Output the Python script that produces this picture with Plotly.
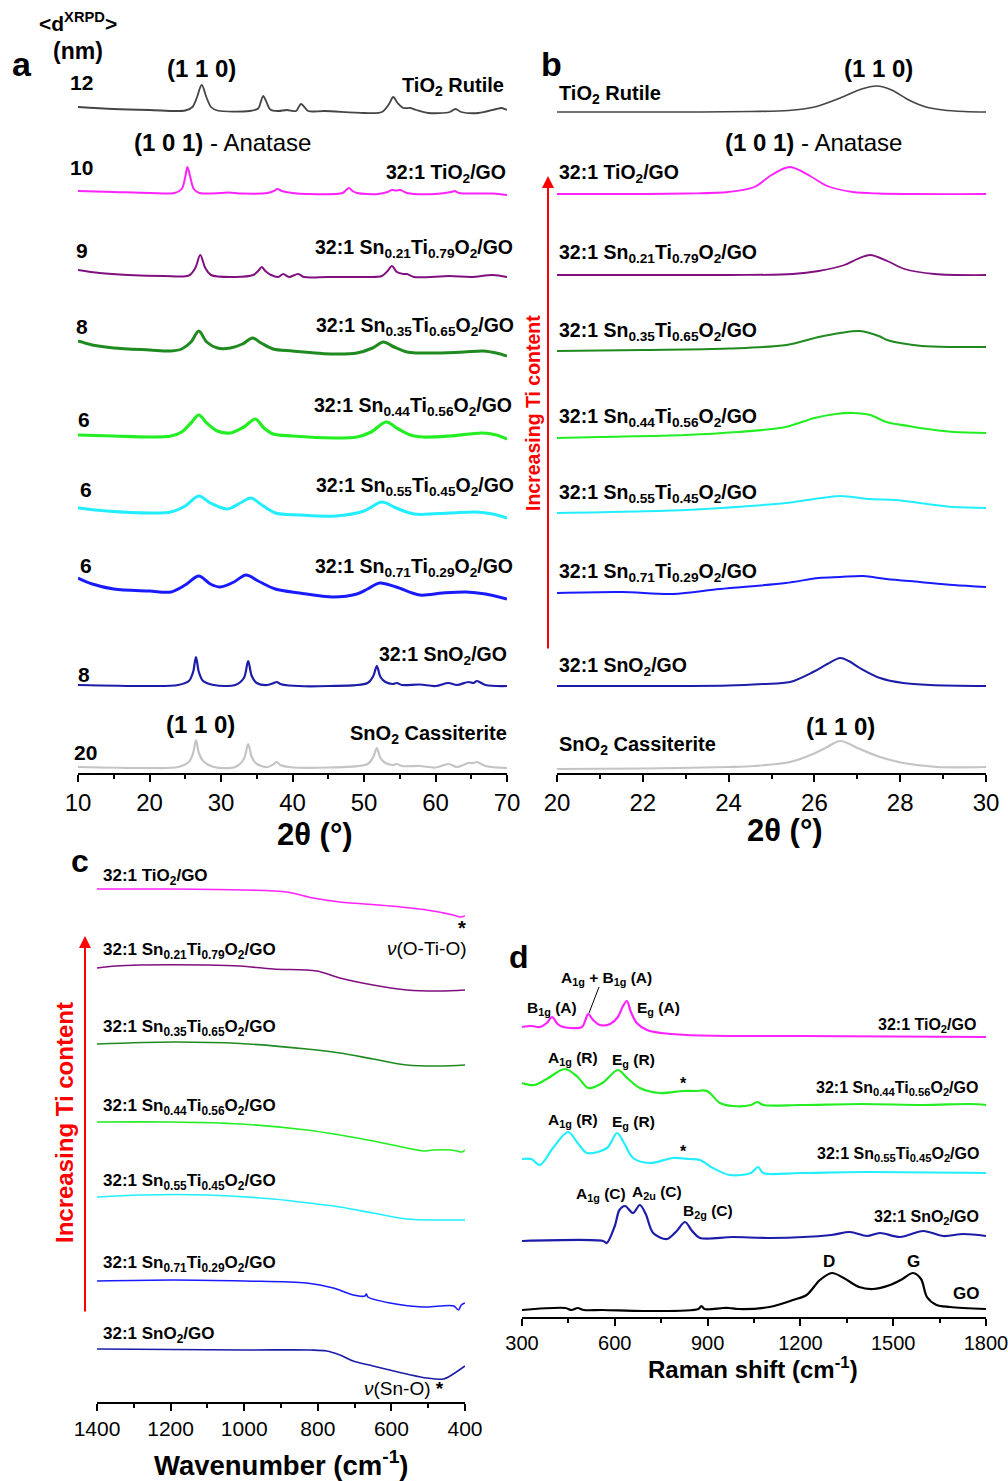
import plotly.graph_objects as go

# the page's default 8px body margin is removed (post_script below), so reference pixels map 1:1
OX, OY = 0, 0
FW, FH = 1008, 1481
FONT = "Liberation Sans, Arial, sans-serif"

# ---------------- Panel a : XRPD 10-70 (relative intensity, a.u.) ----------------
a_rutile_x = [10, 15, 20, 25, 26, 26.6, 27.3, 28, 28.6, 29.5, 34, 35.2, 35.6, 35.9, 36.3, 36.9, 38, 39.2, 40.5, 40.9,
              41.2, 41.6, 42.2, 44.5, 50, 52.5, 53.5, 54.1, 54.7, 55.5, 56.5, 57.3, 59, 62, 62.8, 63.6, 66, 68.5, 69.2, 70]
a_rutile_y = [4, 2, 1, 0.5, 4, 13, 26, 13, 4, 0.5, 0, 2.5, 10, 15, 10, 1.5, 0, 1, 0, 4.5,
              7, 4.5, 0, 0, -2, -1, 7, 14, 8, 3, 3, 1, -2, -1, 2, -1, -2, 2, 3, 1]
a_tio2_x = [10, 15, 20, 23.5, 24.5, 25.0, 25.3, 25.7, 26.2, 27, 30, 31, 33, 36.5, 37.4, 37.9, 38.5, 40, 42, 47,
            47.5, 47.9, 48.4, 49, 52, 53.3, 53.9, 54.5, 55.1, 56, 60, 62.2, 62.7, 63.3, 68, 70]
a_tio2_y = [3, 2, 1, 1, 5, 17, 27, 17, 5, 1, 1, 1.5, 0.5, 1, 3, 5, 3, 1, 0, 1,
            4, 6, 3, 1, 0, 2, 4, 3.5, 4, 1, 0, 2, 3, 1, 0.5, -1]
a_sn21_x = [10, 13, 17, 22, 25.5, 26.4, 27.1, 27.8, 28.6, 32, 34.5, 35.2, 35.7, 36.2, 37, 38, 38.7, 39.5, 40.8, 41.6,
            45, 50, 52.5, 53.3, 53.9, 54.6, 55.5, 56, 57, 62, 65, 68, 70]
a_sn21_y = [6, 3, 1, 0, 0.5, 8, 21, 8, 1, -1, 1, 5, 9, 5, 1, -1, 2, -1, 2, -1,
            -1, -1, 0, 5, 10, 4, 2, 2, -1, 0, -1, 1, -1]
a_sn35_x = [10, 12, 15, 20, 23, 24.5, 25.8, 26.9, 28, 29.5, 31.3, 33, 34.4, 35.6, 37.3, 40, 45.7, 49, 51.2, 52.7,
            54.2, 56, 57.4, 60, 64, 66.7, 68.5, 70]
a_sn35_y = [11, 7, 4, 2, 1, 3, 10, 21, 10, 4, 4, 8, 14, 9, 3, 1, -2, -1, 4, 10,
            5, 0, -1, -1, 0, 1, -1, -4]
a_sn44_x = [10, 15, 20, 23, 24.5, 25.8, 26.9, 28, 29.5, 31.3, 33.2, 34.8, 36, 37.3, 40, 45.7, 49, 51, 53.1, 54.8,
            56.5, 58.3, 62, 66.6, 68.5, 70]
a_sn44_y = [2, 1, 0, 1, 5, 14, 22, 14, 6, 4, 10, 18, 9, 3, 1, -1, 0, 5, 15, 8,
            2, 0, 1, 4, 2, -2]
a_sn55_x = [10, 14, 20, 23, 25, 26.9, 28.5, 30.9, 32.7, 34.2, 35.7, 37.6, 41, 46, 50, 52.5, 54.5, 57, 62, 65.7, 68, 70]
a_sn55_y = [6, 3, 1, 2, 8, 18, 11, 5, 11, 16, 9, 1, -1, -2, 3, 12, 6, 0, 1, 2, 0, -4]
a_sn71_x = [10, 12, 15, 20, 23, 25, 26.9, 28.5, 29.9, 31.8, 33.5, 35.2, 37.6, 41, 45.7, 49, 50.5, 52.2, 54.5, 57.8,
            61, 64.3, 67, 70]
a_sn71_y = [16, 10, 5, 3, 2, 9, 18, 10, 7, 12, 19, 13, 5, 1, -3, 0, 5, 11, 7, -1,
            1, 2, 0, -5]
a_sno2_x = [10, 20, 24, 25.5, 26.1, 26.5, 26.9, 27.5, 29, 32, 33.2, 33.8, 34.3, 35, 36.5, 37.4, 37.8, 38.3, 39.5, 45,
            50.5, 51.3, 51.8, 52.3, 53, 54, 54.6, 55.3, 57.8, 60, 61.8, 63, 64.6, 65.3, 65.8, 67, 70]
a_sno2_y = [1, 0, 1, 5, 14, 29, 14, 5, 1, 1, 8, 25, 10, 3, 1, 3, 4, 2, 0.5, 0,
            3, 10, 20, 9, 4, 2, 3, 1, 1.5, 0, 3, 1, 4, 3, 5, 1, 0]
a_cass_x = a_sno2_x
a_cass_y = [1, 0, 1, 6, 15, 28, 15, 7, 1, 1, 9, 24, 11, 4, 1, 4, 6, 3, 1, 0.5,
            4, 11, 20, 10, 5, 3, 4, 2, 2, 0.5, 4, 1, 5, 5, 6, 2, 0]

# ---------------- Panel b : XRPD 20-30 ----------------
b_rutile_x = [20, 23, 24.5, 25.4, 26, 26.6, 27.1, 27.45, 27.8, 28.2, 28.6, 29, 29.5, 30]
b_rutile_y = [0, 0, 0.5, 1.5, 5, 14, 23, 26, 22, 12, 5, 2, 0.5, 0]
b_tio2_x = [20, 23, 24, 24.6, 25, 25.43, 25.9, 26.3, 26.9, 27.5, 30]
b_tio2_y = [0, 0.5, 2, 7, 19, 27, 18, 8, 2, 0.5, 0]
b_sn21_x = [20, 24, 25.5, 26.1, 26.7, 27.0, 27.3, 27.7, 28.1, 28.8, 30]
b_sn21_y = [0, 0, 1, 4, 10, 16, 20, 14, 6, 1, 0]
b_sn35_x = [20, 22, 24, 25.35, 26.1, 26.6, 27.06, 27.5, 27.7, 28.0, 28.5, 29.2, 30]
b_sn35_y = [-1, 0, 1.5, 5, 13, 17, 19, 14, 10, 7, 4, 3, 3]
b_sn44_x = [20, 21, 23, 24.2, 25.33, 26, 26.5, 26.9, 27.3, 27.68, 28.2, 28.46, 29.24, 30]
b_sn44_y = [-1, 0, 2, 5, 10, 19, 23, 24, 22, 15, 11, 9, 5, 4]
b_sn55_x = [20, 23, 24.5, 25.33, 26, 26.6, 27.3, 27.9, 28.46, 29.24, 30]
b_sn55_y = [0, 3, 7, 10, 14, 17, 14, 13, 10, 6, 5]
b_sn71_x = [20, 21.5, 22.7, 23.8, 25.33, 26.1, 26.6, 27.14, 27.68, 28.46, 29.24, 30]
b_sn71_y = [0, 1, -1, 4, 10, 15, 16, 17, 14, 11, 8, 6]
b_sno2_x = [20, 24, 24.8, 25.43, 25.97, 26.3, 26.6, 26.8, 27.06, 27.53, 28.07, 28.7, 30]
b_sno2_y = [0, 0.5, 2, 4, 14, 22, 28, 25, 18, 8, 3, 1, 0]
b_cass_x = [20, 22, 24, 24.6, 25.43, 25.97, 26.3, 26.6, 27.06, 27.53, 28.07, 28.85, 30]
b_cass_y = [0, 0.5, 2, 3, 7, 15, 22, 28, 20, 12, 6, 2, 2]

# ---------------- Panel c : FTIR (transmittance, a.u.) ----------------
c_tio2_x = [1400, 1200, 1000, 884, 813, 740, 604, 504, 432, 413, 400]
c_tio2_y = [0, 0, -1, -3, -9, -13, -17, -21, -26, -28, -27]
c_sn21_x = [1400, 1350, 1283, 1102, 1011, 921, 803, 740, 650, 558, 468, 400]
c_sn21_y = [0, 2, 3, 3, 2, -1, -3, -10, -17, -22, -23, -22]
c_sn35_x = [1400, 1193, 1011, 830, 740, 650, 558, 468, 400]
c_sn35_y = [0, 2, 0.5, -5, -9, -15, -21, -22, -21]
c_sn44_x = [1400, 1200, 1011, 830, 740, 650, 558, 513, 486, 440, 422, 408, 400]
c_sn44_y = [0, 0, -2, -8, -13, -19, -26, -29, -28, -28, -29, -30, -28]
c_sn55_x = [1400, 1283, 1102, 921, 803, 740, 650, 558, 468, 400]
c_sn55_y = [0, 2, 2, -2, -7, -10, -16, -22, -23, -23]
c_sn71_x = [1400, 1193, 1000, 830, 758, 704, 672, 668, 664, 604, 513, 468, 430, 418, 410, 400]
c_sn71_y = [0, 1, 0, -2, -7, -14, -15, -13, -16, -22, -26, -25, -25, -29, -24, -22]
c_sno2_x = [1400, 1000, 820, 776, 740, 704, 650, 558, 504, 459, 432, 400]
c_sno2_y = [0, -1, -1, -2, -6, -12, -17, -25, -29, -30, -25, -17]

# ---------------- Panel d : Raman (a.u.) ----------------
d_tio2_x = [300, 330, 358, 380, 397, 415, 433, 494, 505, 514, 530, 552, 585, 610, 625, 639, 652, 671, 704, 750,
            833, 1000, 1200, 1800]
d_tio2_y = [10, 11, 10, 14, 20, 13, 10, 10, 17, 23, 17, 12, 13, 20, 30, 36, 25, 14, 7, 4,
            2, 1, 1, 0]
d_sn44_x = [300, 340, 380, 439, 480, 514, 560, 610, 640, 681, 746, 820, 860, 898, 940, 982, 1040, 1060, 1080, 1200,
            1400, 1600, 1750, 1800]
d_sn44_y = [22, 20, 26, 36, 28, 17, 22, 35, 27, 17, 12, 14, 14, 14, 2, -1, 0, 3, 0, 0,
            1, 0, 1, 0]
d_sn55_x = [300, 330, 358, 400, 449, 480, 510, 575, 607, 630, 659, 714, 788, 840, 875, 917, 972, 1040, 1063, 1080,
            1200, 1400, 1800]
d_sn55_y = [14, 14, 8, 25, 41, 30, 20, 25, 40, 30, 15, 10, 15, 14, 13, 5, -2, 0, 6, 0,
            0, 1, 0]
d_sno2_x = [300, 562, 574, 600, 615, 633, 659, 681, 700, 724, 769, 800, 827, 850, 875, 982, 1100, 1300, 1360, 1415,
            1457, 1522, 1597, 1662, 1727, 1800]
d_sno2_y = [-5, -5, -7, 10, 26, 30, 23, 31, 22, 3, -3, 5, 14, 5, -2, -1, -2, 1, 4, 0,
            3, -1, 5, 0, 2, 0]
d_go_x = [300, 440, 460, 480, 500, 560, 700, 870, 880, 890, 950, 970, 1000, 1100, 1176, 1220, 1263, 1302, 1340, 1390,
          1435, 1490, 1530, 1564, 1590, 1609, 1640, 1684, 1800]
d_go_y = [-1, 1, -1, 1, -1, -1, -2, 0, 3, 0, 1, 1, 0, 2, 9, 14, 29, 36, 31, 22,
          20, 24, 30, 36, 30, 12, 4, 2, 0]

# ---------------- stacking offsets and styles ----------------
off_a = [662, 579, 497, 421, 336, 259, 179, 87, 5]
off_b = [661, 579, 498, 423, 336, 260, 180, 87, 4]
off_c = [513, 434, 358, 280, 205, 121, 53]
off_d = [280, 212, 144, 81, 8]

C_RUT, C_TI, C_21, C_35, C_44, C_55, C_71, C_SN, C_CAS = (
    "#454545", "#ff22ff", "#800f80", "#1f8a1f", "#22ee22", "#22eeff", "#1a1aff", "#1c1ca8", "#c4c4c4")

fig = go.Figure()


def add(xs, ys, off, color, width, ax):
    fig.add_trace(go.Scatter(x=xs, y=[v + off for v in ys], mode="lines",
                             line=dict(color=color, width=width, shape="spline", smoothing=0.9),
                             xaxis="x" + ax, yaxis="y" + ax, hoverinfo="skip"))


a_sets = [(a_rutile_x, a_rutile_y, C_RUT, 1.8), (a_tio2_x, a_tio2_y, C_TI, 2), (a_sn21_x, a_sn21_y, C_21, 2),
          (a_sn35_x, a_sn35_y, C_35, 3), (a_sn44_x, a_sn44_y, C_44, 3.2), (a_sn55_x, a_sn55_y, C_55, 3),
          (a_sn71_x, a_sn71_y, C_71, 3), (a_sno2_x, a_sno2_y, C_SN, 2.2), (a_cass_x, a_cass_y, C_CAS, 2.2)]
for (xs, ys, c, w), o in zip(a_sets, off_a):
    add(xs, ys, o, c, w, "")

b_sets = [(b_rutile_x, b_rutile_y, C_RUT, 1.6), (b_tio2_x, b_tio2_y, C_TI, 1.8), (b_sn21_x, b_sn21_y, C_21, 1.8),
          (b_sn35_x, b_sn35_y, C_35, 2), (b_sn44_x, b_sn44_y, C_44, 2.2), (b_sn55_x, b_sn55_y, C_55, 2),
          (b_sn71_x, b_sn71_y, C_71, 2), (b_sno2_x, b_sno2_y, C_SN, 2), (b_cass_x, b_cass_y, C_CAS, 2.2)]
for (xs, ys, c, w), o in zip(b_sets, off_b):
    add(xs, ys, o, c, w, "2")

c_sets = [(c_tio2_x, c_tio2_y, C_TI), (c_sn21_x, c_sn21_y, C_21), (c_sn35_x, c_sn35_y, C_35),
          (c_sn44_x, c_sn44_y, C_44), (c_sn55_x, c_sn55_y, C_55), (c_sn71_x, c_sn71_y, C_71),
          (c_sno2_x, c_sno2_y, C_SN)]
for (xs, ys, c), o in zip(c_sets, off_c):
    add(xs, ys, o, c, 1.6, "3")

d_sets = [(d_tio2_x, d_tio2_y, C_TI), (d_sn44_x, d_sn44_y, C_44), (d_sn55_x, d_sn55_y, C_55),
          (d_sno2_x, d_sno2_y, C_SN), (d_go_x, d_go_y, "#000000")]
for (xs, ys, c), o in zip(d_sets, off_d):
    add(xs, ys, o, c, 2.2, "4")


def PX(x):
    return (x - OX) / FW


def PY(y):
    return 1 - (y - OY) / FH


def xax(x0, x1, rng, dtick, mdtick, fsize):
    return dict(domain=[PX(x0), PX(x1)], range=rng, dtick=dtick, tick0=min(rng),
                showline=True, linecolor="black", linewidth=2, ticks="outside", ticklen=7, tickwidth=2,
                tickcolor="black", showgrid=False, zeroline=False, automargin=False,
                ticklabeloverflow="allow",
                tickfont=dict(family=FONT, size=fsize, color="black"),
                minor=dict(ticks="outside", ticklen=4, tickwidth=1.5, dtick=mdtick, tickcolor="black",
                           showgrid=False))


def yax(axis_px, top_px, xa):
    return dict(domain=[PY(axis_px), PY(top_px)], range=[0, axis_px - top_px], visible=False, anchor=xa,
                fixedrange=True, automargin=False)


fig.update_layout(
    template="none",
    width=FW, height=FH, margin=dict(l=0, r=0, t=0, b=0, pad=0, autoexpand=False),
    paper_bgcolor="white", plot_bgcolor="white",
    showlegend=False, font=dict(family=FONT, color="black"),
    xaxis=dict(xax(78, 507, [10, 70], 10, 5, 24), anchor="y"),
    yaxis=yax(773, 30, "x"),
    xaxis2=dict(xax(557, 986, [20, 30], 2, 1, 24), anchor="y2"),
    yaxis2=yax(773, 30, "x2"),
    xaxis3=dict(xax(97, 465, [1400, 400], 200, 100, 21), anchor="y3"),
    yaxis3=yax(1402, 860, "x3"),
    xaxis4=dict(xax(522, 986, [300, 1800], 300, 150, 20), anchor="y4"),
    yaxis4=yax(1317, 940, "x4"),
)

anns = []


def T(text, x, y, size, anchor="center", bold=True, color="black", angle=0):
    t = "<b>" + text + "</b>" if bold else text
    anns.append(dict(text=t, x=PX(x), y=PY(y), xref="paper", yref="paper", showarrow=False,
                     xanchor=anchor, yanchor="middle", textangle=angle,
                     font=dict(family=FONT, size=size, color=color)))


S = "<sub>"
E = "</sub>"
lab_ti = "32:1 TiO" + S + "2" + E + "/GO"


def lab_alloy(a, b):
    return "32:1 Sn" + S + a + E + "Ti" + S + b + E + "O" + S + "2" + E + "/GO"


lab_sn = "32:1 SnO" + S + "2" + E + "/GO"
lab_rut = "TiO" + S + "2" + E + " Rutile"
lab_cas = "SnO" + S + "2" + E + " Cassiterite"
anat = "<b>(1 0 1)</b> - Anatase"

LA = 19.5  # curve label size in panels a and b

# panel a
T("&lt;d<sup>XRPD</sup>&gt;", 78, 22, 21)
T("(nm)", 78, 51, 23)
T("a", 22, 64, 34)
T("(1 1 0)", 201, 69, 24)
T(lab_rut, 506, 86, 20, "right")
T(anat, 222, 142, 24, bold=False)
T(lab_ti, 508, 174, LA, "right")
T(lab_alloy("0.21", "0.79"), 515, 249, LA, "right")
T(lab_alloy("0.35", "0.65"), 516, 326, LA, "right")
T(lab_alloy("0.44", "0.56"), 514, 407, LA, "right")
T(lab_alloy("0.55", "0.45"), 516, 486, LA, "right")
T(lab_alloy("0.71", "0.29"), 515, 567, LA, "right")
T(lab_sn, 509, 655, LA, "right")
T("(1 1 0)", 200, 725, 24)
T(lab_cas, 509, 735, 20, "right")
for num, yy, xx in [("12", 83, 81), ("10", 167, 81), ("9", 250, 82), ("8", 327, 82), ("6", 419, 84),
                    ("6", 489, 86), ("6", 565, 86), ("8", 674, 84), ("20", 752, 85)]:
    T(num, xx, yy, 21)
T("2θ (°)", 315, 834, 31)

# panel b
T("b", 551, 64, 34)
T("(1 1 0)", 878, 69, 24)
T(lab_rut, 557, 94, 20, "left")
T(anat, 813, 142, 24, bold=False)
for lab, yy in [(lab_ti, 174), (lab_alloy("0.21", "0.79"), 254), (lab_alloy("0.35", "0.65"), 332),
                (lab_alloy("0.44", "0.56"), 417), (lab_alloy("0.55", "0.45"), 493),
                (lab_alloy("0.71", "0.29"), 572), (lab_sn, 666)]:
    T(lab, 557, yy, LA, "left")
T(lab_cas, 557, 745, 20, "left")
T("(1 1 0)", 840, 726, 24)
T("Increasing Ti content", 533, 413, 19.5, color="#ff0000", angle=-90)
T("2θ (°)", 785, 830, 31)

# panel c
T("c", 80, 861, 32)
for lab, yy in [(lab_ti, 877), (lab_alloy("0.21", "0.79"), 951), (lab_alloy("0.35", "0.65"), 1028),
                (lab_alloy("0.44", "0.56"), 1107), (lab_alloy("0.55", "0.45"), 1182),
                (lab_alloy("0.71", "0.29"), 1264), (lab_sn, 1335)]:
    T(lab, 101, yy, 17, "left")
T("*", 462, 928, 20)
T("<i>ν</i>(O-Ti-O)", 469, 949, 19, "right", bold=False)
T("<i>ν</i>(Sn-O) <b>*</b>", 404, 1388, 19, bold=False)
T("Increasing Ti content", 64, 1123, 24, color="#ff0000", angle=-90)
T("Wavenumber (cm<sup>-1</sup>)", 281, 1463, 27.5)

# panel d
PL = 15.5
T("d", 519, 957, 32)
T("A" + S + "1g" + E + " + B" + S + "1g" + E + " (A)", 606, 978, PL)
T("B" + S + "1g" + E + " (A)", 552, 1008, PL)
T("E" + S + "g" + E + " (A)", 658, 1008, PL)
T(lab_ti, 978, 1025, 16, "right")
T("A" + S + "1g" + E + " (R)", 573, 1058, PL)
T("E" + S + "g" + E + " (R)", 633, 1060, PL)
T("*", 683, 1083, 16)
T(lab_alloy("0.44", "0.56"), 980, 1088, 16, "right")
T("A" + S + "1g" + E + " (R)", 573, 1120, PL)
T("E" + S + "g" + E + " (R)", 633, 1122, PL)
T("*", 683, 1151, 16)
T(lab_alloy("0.55", "0.45"), 981, 1154, 16, "right")
T("A" + S + "1g" + E + " (C)", 601, 1194, PL)
T("A" + S + "2u" + E + " (C)", 657, 1192, PL)
T("B" + S + "2g" + E + " (C)", 708, 1211, PL)
T(lab_sn, 981, 1217, 16, "right")
T("D", 829, 1261, 17)
T("G", 913, 1261, 17)
T("GO", 981, 1293, 17, "right")
T("Raman shift (cm<sup>-1</sup>)", 753, 1368, 24)

# red arrows
for xx, yh, yt in [(548, 176, 650), (85, 936, 1313)]:
    anns.append(dict(x=PX(xx), y=PY(yh), xref="paper", yref="paper", ax=0, ay=yt - yh, axref="pixel",
                     ayref="pixel", text="", showarrow=True, arrowhead=2, arrowsize=1.2, arrowwidth=2,
                     arrowcolor="#ff0000"))

fig.update_layout(annotations=anns,
                  shapes=[dict(type="line", xref="paper", yref="paper", x0=PX(599), y0=PY(987),
                               x1=PX(589), y1=PY(1013), line=dict(color="black", width=1))])

fig.write_html("out.html", config={"displayModeBar": False},
               post_script="document.body.style.margin='0px';document.body.style.overflow='hidden';")
